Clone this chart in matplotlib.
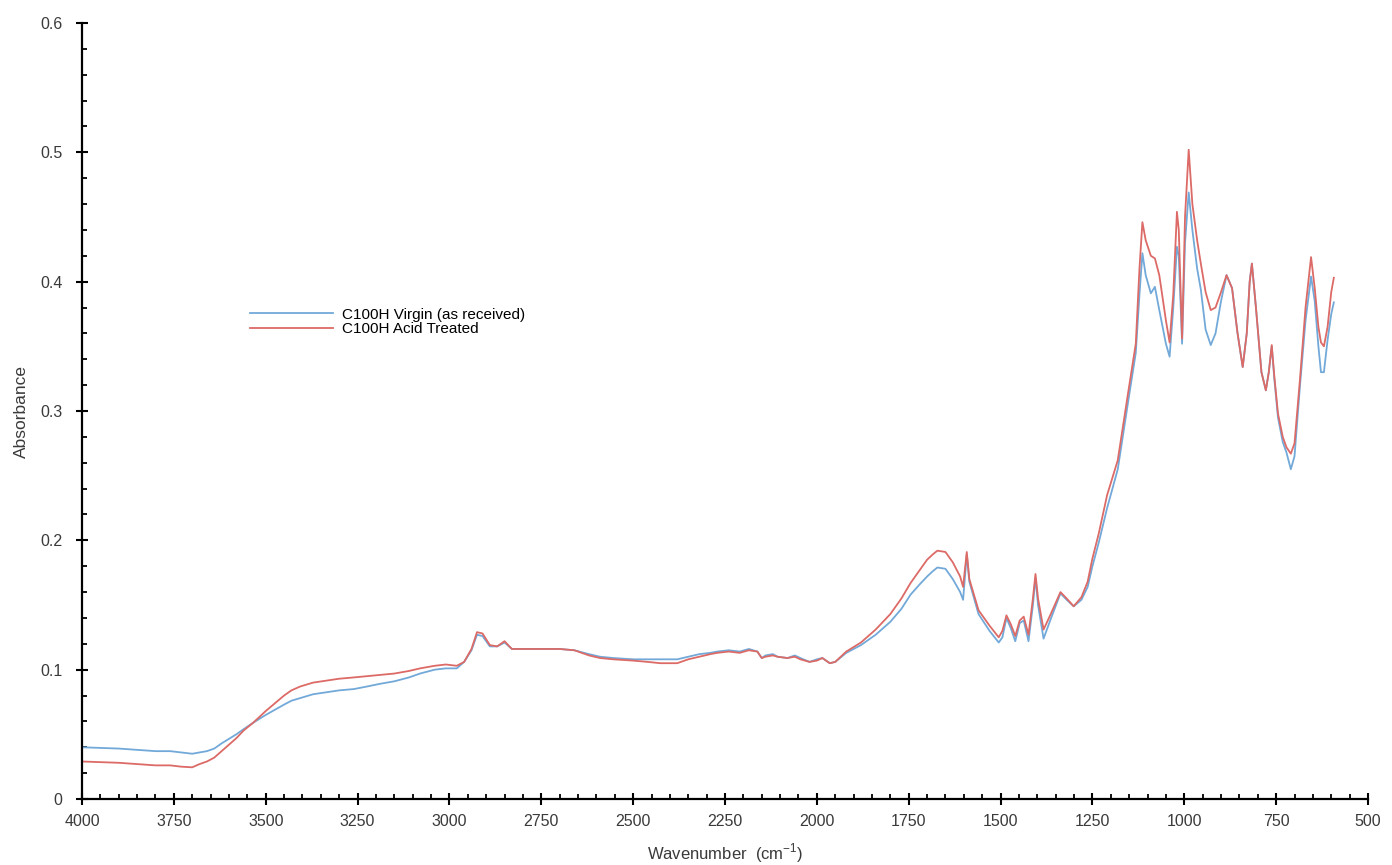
import matplotlib
matplotlib.use("Agg")
import matplotlib.pyplot as plt
from matplotlib.ticker import MultipleLocator, FixedLocator

plt.rcParams['font.family'] = ['Liberation Sans', 'DejaVu Sans']
plt.rcParams['mathtext.fontset'] = 'custom'
plt.rcParams['mathtext.rm'] = 'Liberation Sans'

# wavenumber (cm-1) and absorbance
wavenumber = [4000, 3950, 3900, 3850, 3800, 3760, 3730, 3700, 3680, 3660, 3640, 3620,
              3580, 3560, 3534, 3500, 3475, 3450, 3430, 3406, 3371, 3300, 3260, 3224,
              3190, 3150, 3110, 3080, 3040, 3010, 2980, 2960, 2940, 2925, 2910, 2890,
              2870, 2850, 2830, 2800, 2750, 2700, 2660, 2620, 2590, 2554, 2500, 2460,
              2426, 2380, 2350, 2320, 2290, 2271, 2240, 2210, 2185, 2162, 2150, 2140,
              2120, 2107, 2080, 2060, 2045, 2020, 2000, 1985, 1965, 1950, 1920, 1880,
              1840, 1800, 1770, 1745, 1720, 1700, 1685, 1672, 1650, 1630, 1610, 1602,
              1592, 1585, 1560, 1530, 1505, 1495, 1484, 1472, 1460, 1448, 1437, 1424,
              1412, 1405, 1398, 1383, 1365, 1337, 1320, 1301, 1280, 1263, 1250, 1233,
              1210, 1181, 1154, 1132, 1122, 1114, 1105, 1091, 1080, 1068, 1050, 1040,
              1030, 1020, 1015, 1006, 998, 988, 978, 965, 955, 942, 928, 915,
              900, 885, 870, 855, 841, 830, 822, 816, 805, 790, 778, 770,
              762, 755, 745, 732, 722, 710, 700, 685, 670, 655, 645, 635,
              628, 620, 610, 600, 593]

virgin = [0.040, 0.0395, 0.039, 0.038, 0.037, 0.037, 0.036, 0.035, 0.036, 0.037, 0.039, 0.043,
          0.050, 0.054, 0.059, 0.065, 0.069, 0.073, 0.076, 0.078, 0.081, 0.084, 0.085, 0.087,
          0.089, 0.091, 0.094, 0.097, 0.100, 0.101, 0.101, 0.106, 0.115, 0.127, 0.126, 0.118,
          0.118, 0.121, 0.116, 0.116, 0.116, 0.116, 0.115, 0.112, 0.110, 0.109, 0.108, 0.108,
          0.108, 0.108, 0.110, 0.112, 0.113, 0.114, 0.115, 0.114, 0.116, 0.114, 0.109, 0.111,
          0.112, 0.110, 0.109, 0.111, 0.109, 0.106, 0.108, 0.109, 0.105, 0.106, 0.113, 0.119,
          0.127, 0.137, 0.147, 0.158, 0.166, 0.172, 0.176, 0.179, 0.178, 0.170, 0.160, 0.154,
          0.189, 0.168, 0.143, 0.130, 0.121, 0.125, 0.140, 0.132, 0.122, 0.136, 0.138, 0.122,
          0.150, 0.171, 0.150, 0.124, 0.138, 0.159, 0.154, 0.149, 0.154, 0.164, 0.180, 0.198,
          0.225, 0.255, 0.305, 0.345, 0.390, 0.422, 0.405, 0.391, 0.396, 0.378, 0.352, 0.342,
          0.380, 0.427, 0.420, 0.352, 0.430, 0.469, 0.440, 0.410, 0.394, 0.363, 0.351, 0.360,
          0.385, 0.405, 0.395, 0.360, 0.334, 0.360, 0.400, 0.414, 0.380, 0.330, 0.316, 0.330,
          0.350, 0.325, 0.295, 0.276, 0.268, 0.255, 0.265, 0.320, 0.370, 0.404, 0.385, 0.350,
          0.330, 0.330, 0.355, 0.375, 0.384]

acid = [0.029, 0.0285, 0.028, 0.027, 0.026, 0.026, 0.025, 0.0245, 0.027, 0.029, 0.032, 0.037,
        0.047, 0.053, 0.059, 0.068, 0.074, 0.080, 0.084, 0.087, 0.090, 0.093, 0.094, 0.095,
        0.096, 0.097, 0.099, 0.101, 0.103, 0.104, 0.103, 0.106, 0.116, 0.129, 0.128, 0.119,
        0.118, 0.122, 0.116, 0.116, 0.116, 0.116, 0.115, 0.111, 0.109, 0.108, 0.107, 0.106,
        0.105, 0.105, 0.108, 0.110, 0.112, 0.113, 0.114, 0.113, 0.115, 0.114, 0.109, 0.110,
        0.111, 0.110, 0.109, 0.110, 0.108, 0.106, 0.107, 0.109, 0.105, 0.106, 0.114, 0.121,
        0.131, 0.143, 0.155, 0.167, 0.177, 0.185, 0.189, 0.192, 0.191, 0.183, 0.172, 0.164,
        0.191, 0.170, 0.146, 0.134, 0.125, 0.130, 0.142, 0.135, 0.126, 0.138, 0.141, 0.127,
        0.155, 0.174, 0.155, 0.131, 0.142, 0.160, 0.155, 0.149, 0.156, 0.168, 0.186, 0.205,
        0.235, 0.262, 0.312, 0.352, 0.410, 0.446, 0.432, 0.420, 0.418, 0.405, 0.370, 0.353,
        0.390, 0.454, 0.440, 0.356, 0.450, 0.502, 0.460, 0.432, 0.414, 0.392, 0.378, 0.380,
        0.392, 0.405, 0.395, 0.360, 0.334, 0.360, 0.400, 0.414, 0.380, 0.330, 0.316, 0.330,
        0.351, 0.327, 0.298, 0.280, 0.272, 0.267, 0.275, 0.325, 0.380, 0.419, 0.395, 0.365,
        0.353, 0.350, 0.365, 0.392, 0.403]

labels = ['C100H Virgin (as received)', 'C100H Acid Treated']
colors = ['#72a9d9', '#dc6a66']

fig = plt.figure(figsize=(13.92, 8.65), dpi=100)
ax = fig.add_axes([82 / 1392, 1 - 799 / 865, 1286 / 1392, 776 / 865])

ax.plot(wavenumber, virgin, color=colors[0], lw=1.3, label=labels[0])
ax.plot(wavenumber, acid, color=colors[1], lw=1.3, label=labels[1])

ax.set_xlim(4000, 500)
ax.set_ylim(0, 0.6)
ax.xaxis.set_major_locator(MultipleLocator(250))
ax.xaxis.set_minor_locator(MultipleLocator(50))
ax.yaxis.set_major_locator(FixedLocator([0, 0.1, 0.2, 0.3, 0.4, 0.5, 0.6]))
ax.yaxis.set_minor_locator(MultipleLocator(0.02))
ax.set_yticklabels(['0', '0.1', '0.2', '0.3', '0.4', '0.5', '0.6'])

for s in ['top', 'right']:
    ax.spines[s].set_visible(False)
for s in ['left', 'bottom']:
    ax.spines[s].set_linewidth(1.6)

ax.tick_params(which='major', direction='inout', length=8, width=1.5, labelsize=11.5,
               colors='black', labelcolor='#3a3a3a')
ax.tick_params(axis='x', which='major', pad=7)
ax.tick_params(axis='y', which='major', pad=10)
ax.tick_params(which='minor', direction='in', length=3.5, width=1.3)

ax.set_xlabel('Wavenumber  (cm$^{\\mathregular{-1}}$)', fontsize=12, color='#3a3a3a')
ax.set_ylabel('Absorbance', fontsize=12.5, color='#3a3a3a')
ax.xaxis.set_label_coords(0.5, (799 - 841) / 776)
ax.yaxis.set_label_coords((29 - 82) / 1286, 0.5)

ax.legend(loc='center left', bbox_to_anchor=((250 - 82) / 1286, (799 - 322) / 776),
          frameon=False, fontsize=11, handlelength=5.4, handletextpad=0.6,
          labelspacing=0.05, borderaxespad=0, borderpad=0)

fig.savefig('out.png', dpi=100)
